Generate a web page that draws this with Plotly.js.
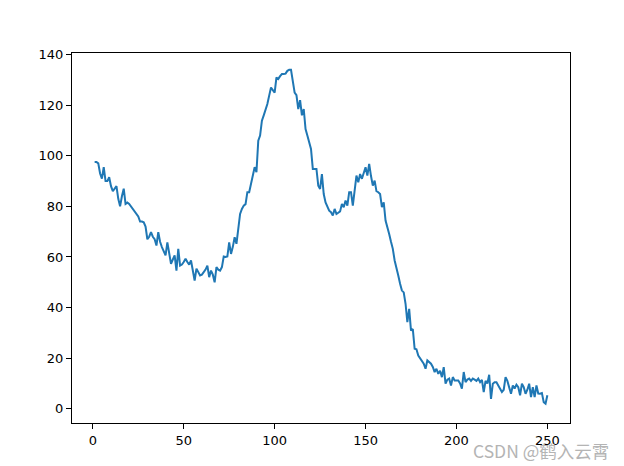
<!DOCTYPE html>
<html>
<head>
<meta charset="utf-8">
<script src="https://cdn.plot.ly/plotly-3.0.1.min.js"></script>
<style>html,body{margin:0;padding:0;background:#fff;}#chart{width:624px;height:466px;}</style>
</head>
<body>
<div id="chart"></div>
<script>
// series values, x = 1..250
const values = [
  97.6, 97.6, 97, 93, 91, 95.5, 90, 90, 91.5, 88,
  86, 87, 88, 83, 80, 84, 87, 81, 81.5, 81,
  80, 79, 78.5, 77.5, 76, 74, 74, 73.7, 72, 67,
  68, 69.8, 68, 67, 64.5, 69.8, 66, 63.9, 62, 60.6,
  65.8, 61, 57.3, 59, 60.6, 54.6, 63.2, 56.6, 57, 58,
  59.3, 58, 57, 58.6, 55, 50.7, 55.4, 54, 52.7, 53,
  54, 55, 56.6, 52, 54.6, 53, 50, 56, 55, 54.6,
  56, 60.2, 60, 60.2, 65.8, 61.2, 64, 67.8, 65.2, 70.4,
  77, 79, 80.3, 80.9, 85.6, 85.6, 88.9, 92.8, 95.5, 93.5,
  106, 108, 113.9, 116, 118, 120.5, 123.8, 127, 126, 125,
  131, 130.4, 131.5, 132.3, 132.3, 132.5, 133.6, 134, 134, 128.4,
  125, 124, 118.5, 122, 116, 118.5, 110.6, 108, 104.7, 102.7,
  94.8, 94.8, 94.8, 88.2, 86.9, 92.8, 84.9, 81.6, 80, 78.3,
  77.7, 76.4, 79, 77, 77.5, 78, 81, 79.7, 82.3, 80.3,
  85.6, 85.6, 80.3, 87, 92.2, 89.5, 92.8, 90.9, 93, 95.5,
  92.2, 96.8, 92, 88.2, 90.2, 86, 85.6, 84.9, 79.7, 81.6,
  74.4, 72, 69.1, 66, 63.2, 58.6, 55, 52.7, 49.4, 46.7,
  46, 41.5, 34.2, 39.5, 30.9, 31.5, 23.7, 23.5, 21, 20,
  18.5, 17.8, 15.8, 19.1, 18.5, 17.8, 16.5, 14.5, 15.8, 13.8,
  15, 12.5, 16.4, 9.9, 11.5, 11.9, 9.2, 12.5, 11.2, 11.2,
  11.2, 10, 7.9, 14.5, 10.5, 11.5, 11.9, 11, 11.9, 11.5,
  11, 11.9, 10.5, 11.4, 6.6, 11, 10, 13.4, 3.9, 9.9,
  10.5, 10.5, 9.2, 8, 6.6, 7.5, 12.5, 11, 8, 5.9,
  9.2, 8, 9.5, 8.5, 5.3, 9.9, 8.5, 5.9, 7.5, 9.9,
  4.6, 8.5, 4.6, 9.2, 6, 5.9, 6.2, 2.6, 2, 5.3
];
const xTicks = [0, 50, 100, 150, 200, 250];
const yTicks = [0, 20, 40, 60, 80, 100, 120, 140];
const watermark = "CSDN @鹤入云霄";

const xs = values.map((v, i) => i + 1);

const axisCommon = {
  showgrid: false, zeroline: false, showline: true, mirror: true,
  linecolor: '#000', linewidth: 1, ticks: 'outside', ticklen: 5, tickwidth: 1,
  tickcolor: '#000', tickfont: {family: 'DejaVu Sans', size: 13, color: '#000'}
};

Plotly.newPlot('chart', [{
  x: xs, y: values, type: 'scatter', mode: 'lines',
  line: {color: '#1f77b4', width: 2}, hoverinfo: 'skip'
}], {
  width: 624, height: 466,
  margin: {l: 72, r: 54, t: 53, b: 43},
  paper_bgcolor: '#fff', plot_bgcolor: '#fff',
  showlegend: false,
  xaxis: Object.assign({}, axisCommon, {range: [-11.45, 262.45], tickvals: xTicks, ticktext: xTicks.map(String)}),
  yaxis: Object.assign({}, axisCommon, {range: [-5.65, 140.65], tickvals: yTicks, ticktext: yTicks.map(String)}),
  annotations: [{
    text: watermark, xref: 'paper', yref: 'paper', x: 1.082, y: -0.036,
    xanchor: 'right', yanchor: 'top', showarrow: false,
    font: {family: 'Noto Sans CJK SC, DejaVu Sans', size: 17.5, color: '#b4b4b4'}
  }]
}, {displayModeBar: false, staticPlot: true});
</script>
</body>
</html>
